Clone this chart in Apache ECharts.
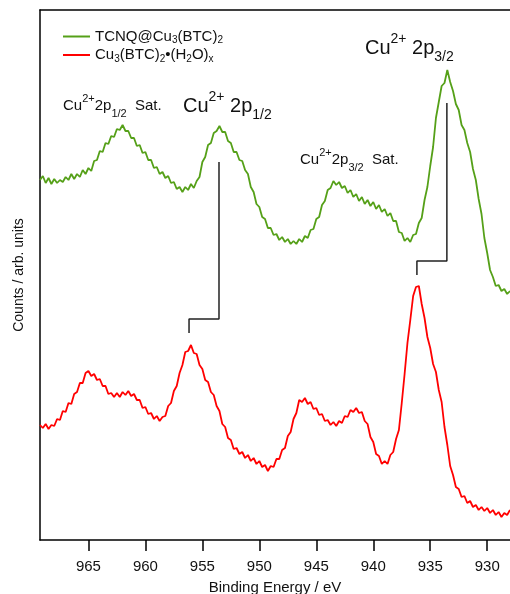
<!DOCTYPE html>
<html>
<head>
<meta charset="utf-8">
<script src="https://cdn.jsdelivr.net/npm/echarts@6/dist/echarts.min.js"></script>
<style>
  html, body { margin: 0; padding: 0; background: #fff; }
  #chart { width: 510px; height: 594px; }
</style>
</head>
<body>
<div id="chart"></div>
<script>
// Cu 2p XPS spectra, sampled every 0.25 eV from 969.25 eV down to 928.0 eV
const energyStart = 969.25;
const energyStep = 0.25;

const seriesNames = ['TCNQ@Cu3(BTC)2', 'Cu3(BTC)2•(H2O)x'];

// TCNQ@Cu3(BTC)2 (arb. units, offset upward)
const tcnqCounts = [
  3.60,3.64,3.57,3.62, 3.56,3.61,3.57,3.60, 3.58,3.63,3.60,3.66, 3.61,3.66,3.63,3.70,
  3.66,3.72,3.69,3.79, 3.80,3.89,3.88,3.97, 3.96,4.04,4.03,4.11, 4.10,4.15,4.09,4.09,
  4.02,4.02,3.94,3.95, 3.87,3.88,3.80,3.80, 3.72,3.73,3.66,3.68, 3.62,3.64,3.57,3.58,
  3.51,3.53,3.48,3.53, 3.50,3.56,3.52,3.59, 3.63,3.78,3.83,3.95, 3.97,4.07,4.09,4.14,
  4.08,4.08,3.99,3.97, 3.88,3.88,3.80,3.79, 3.70,3.66,3.53,3.48, 3.36,3.33,3.23,3.21,
  3.12,3.12,3.05,3.06, 3.00,3.03,2.98,3.01, 2.96,2.99,2.96,3.01, 2.98,3.04,3.02,3.10,
  3.11,3.21,3.23,3.35, 3.39,3.50,3.52,3.59, 3.55,3.58,3.52,3.54, 3.47,3.50,3.43,3.46,
  3.39,3.43,3.36,3.40, 3.34,3.38,3.31,3.35, 3.28,3.31,3.24,3.27, 3.19,3.19,3.08,3.07,
  2.99,3.02,2.98,3.05, 3.06,3.17,3.22,3.40, 3.53,3.74,3.93,4.22, 4.38,4.54,4.57,4.70,
  4.58,4.49,4.36,4.30, 4.15,4.10,3.97,3.88, 3.71,3.60,3.41,3.26, 3.02,2.87,2.70,2.63,
  2.54,2.55,2.49,2.51, 2.46,2.49
];

// Cu3(BTC)2·(H2O)x (arb. units)
const hydratedCounts = [
  1.15,1.12,1.16,1.11, 1.15,1.14,1.21,1.20, 1.29,1.28,1.37,1.36, 1.46,1.48,1.57,1.57,
  1.67,1.69,1.64,1.66, 1.60,1.61,1.54,1.54, 1.46,1.47,1.43,1.47, 1.43,1.48,1.45,1.49,
  1.44,1.46,1.40,1.40, 1.32,1.33,1.26,1.27, 1.21,1.24,1.19,1.23, 1.24,1.34,1.37,1.49,
  1.54,1.67,1.75,1.88, 1.89,1.95,1.87,1.86, 1.75,1.71,1.60,1.58, 1.48,1.45,1.34,1.29,
  1.16,1.13,1.02,1.00, 0.91,0.92,0.86,0.88, 0.82,0.85,0.79,0.82, 0.76,0.79,0.73,0.75,
  0.69,0.74,0.73,0.81, 0.81,0.90,0.92,1.04, 1.08,1.21,1.27,1.40, 1.38,1.42,1.36,1.38,
  1.31,1.32,1.25,1.26, 1.19,1.20,1.15,1.18, 1.14,1.19,1.17,1.24, 1.23,1.30,1.28,1.32,
  1.27,1.28,1.19,1.16, 1.03,0.98,0.86,0.84, 0.76,0.79,0.76,0.85, 0.88,1.01,1.10,1.37,
  1.66,1.97,2.20,2.44, 2.53,2.54,2.36,2.22, 2.03,1.92,1.76,1.68, 1.50,1.38,1.13,0.95,
  0.74,0.65,0.53,0.51, 0.43,0.44,0.37,0.39, 0.33,0.35,0.30,0.33, 0.29,0.32,0.27,0.30,
  0.25,0.28,0.23,0.27, 0.25,0.30
];

const tickValues = [965, 960, 955, 950, 945, 940, 935, 930];

// peak-shift connectors: [energy, intensity] corners
const shiftP12 = [[953.54, 3.78], [953.54, 2.21], [956.17, 2.21], [956.17, 2.07]];
const shiftP32 = [[933.54, 4.37], [933.54, 2.79], [936.17, 2.79], [936.17, 2.65]];

const FONT = '"Liberation Sans", Arial, Helvetica, sans-serif';
const toPairs = arr => arr.map((v, i) => [energyStart - i * energyStep, v]);

const chart = echarts.init(document.getElementById('chart'), null, { renderer: 'canvas' });

function richText(parts) {
  // parts: array of [styleKey, text]
  return parts.map(p => '{' + p[0] + '|' + p[1] + '}').join('');
}

const legendRich = {
  [seriesNames[0]]: richText([['n', 'TCNQ@Cu'], ['s', '3'], ['n', '(BTC)'], ['s', '2']]),
  [seriesNames[1]]: richText([['n', 'Cu'], ['s', '3'], ['n', '(BTC)'], ['s', '2'], ['n', '•(H'], ['s', '2'], ['n', 'O)'], ['s', 'x']])
};

function annotation(x, y, big, subText, sat) {
  const parts = [['m', 'Cu'], ['u', '2+'], ['m', big ? ' 2p' : '2p'], ['d', subText]];
  if (sat) parts.push(['m', '  Sat.']);
  const f = big ? 20 : 15;
  const fs = big ? 14 : 11;
  const lh = big ? 32 : 26;
  return {
    type: 'text', x: x, y: y, silent: true,
    style: {
      text: richText(parts),
      verticalAlign: 'middle',
      fill: '#111',
      fontFamily: FONT,
      rich: {
        m: { fontSize: f, lineHeight: lh, fontFamily: FONT, fill: '#111', verticalAlign: 'middle' },
        u: { fontSize: fs, lineHeight: big ? 10 : 8, fontFamily: FONT, fill: '#111', verticalAlign: 'top' },
        d: { fontSize: fs, lineHeight: big ? 16 : 18, fontFamily: FONT, fill: '#111', verticalAlign: 'bottom' }
      }
    }
  };
}

const option = {
  animation: false,
  backgroundColor: '#ffffff',
  grid: { left: 40, right: 0, top: 10, bottom: 54, containLabel: false, outerBoundsMode: 'none' },
  legend: {
    data: seriesNames,
    orient: 'vertical',
    left: 58,
    top: 24,
    itemGap: 2,
    itemWidth: 27,
    itemHeight: 2,
    icon: 'rect',
    formatter: name => legendRich[name],
    textStyle: {
      fontFamily: FONT,
      color: '#111',
      rich: {
        n: { fontSize: 15, lineHeight: 18, fontFamily: FONT, color: '#111', verticalAlign: 'middle' },
        s: { fontSize: 10, lineHeight: 9, fontFamily: FONT, color: '#111', verticalAlign: 'bottom' }
      }
    }
  },
  xAxis: [
    {
      type: 'value',
      inverse: true,
      min: 928,
      max: 969.25,
      position: 'bottom',
      name: 'Binding Energy / eV',
      nameLocation: 'middle',
      nameGap: 40,
      nameTextStyle: { fontFamily: FONT, fontSize: 15, color: '#111' },
      axisLine: { show: true, onZero: false, lineStyle: { color: '#000', width: 1.5 } },
      axisTick: { show: true, inside: false, length: 11, customValues: tickValues, lineStyle: { color: '#000', width: 1.5 } },
      axisLabel: { show: true, customValues: tickValues, margin: 19, fontFamily: FONT, fontSize: 15, color: '#111' },
      splitLine: { show: false }
    },
    {
      type: 'value',
      inverse: true,
      min: 928,
      max: 969.25,
      position: 'top',
      axisLine: { show: true, onZero: false, lineStyle: { color: '#000', width: 1.5 } },
      axisTick: { show: false },
      axisLabel: { show: false },
      splitLine: { show: false }
    }
  ],
  yAxis: {
    type: 'value',
    min: 0,
    max: 5.3,
    name: 'Counts / arb. units',
    nameLocation: 'middle',
    nameGap: 14,
    nameTextStyle: { fontFamily: FONT, fontSize: 14, color: '#111' },
    axisLine: { show: true, onZero: false, lineStyle: { color: '#000', width: 1.5 } },
    axisTick: { show: false },
    axisLabel: { show: false },
    splitLine: { show: false }
  },
  series: [
    {
      name: seriesNames[0],
      type: 'line',
      data: toPairs(tcnqCounts),
      showSymbol: false,
      symbol: 'none',
      color: '#55a018',
      lineStyle: { color: '#55a018', width: 1.8 },
      z: 3
    },
    {
      name: seriesNames[1],
      type: 'line',
      data: toPairs(hydratedCounts),
      showSymbol: false,
      symbol: 'none',
      color: '#ff0000',
      lineStyle: { color: '#ff0000', width: 1.8 },
      z: 3
    },
    {
      name: 'shift-p12',
      type: 'line',
      data: shiftP12,
      symbol: 'none',
      silent: true,
      lineStyle: { color: '#222', width: 1.5 },
      z: 2
    },
    {
      name: 'shift-p32',
      type: 'line',
      data: shiftP32,
      symbol: 'none',
      silent: true,
      lineStyle: { color: '#222', width: 1.5 },
      z: 2
    }
  ],
  graphic: [
    annotation(63, 106, false, '1/2', true),
    annotation(183, 106, true, '1/2', false),
    annotation(300, 160, false, '3/2', true),
    annotation(365, 48, true, '3/2', false)
  ]
};

chart.setOption(option);
</script>
</body>
</html>
